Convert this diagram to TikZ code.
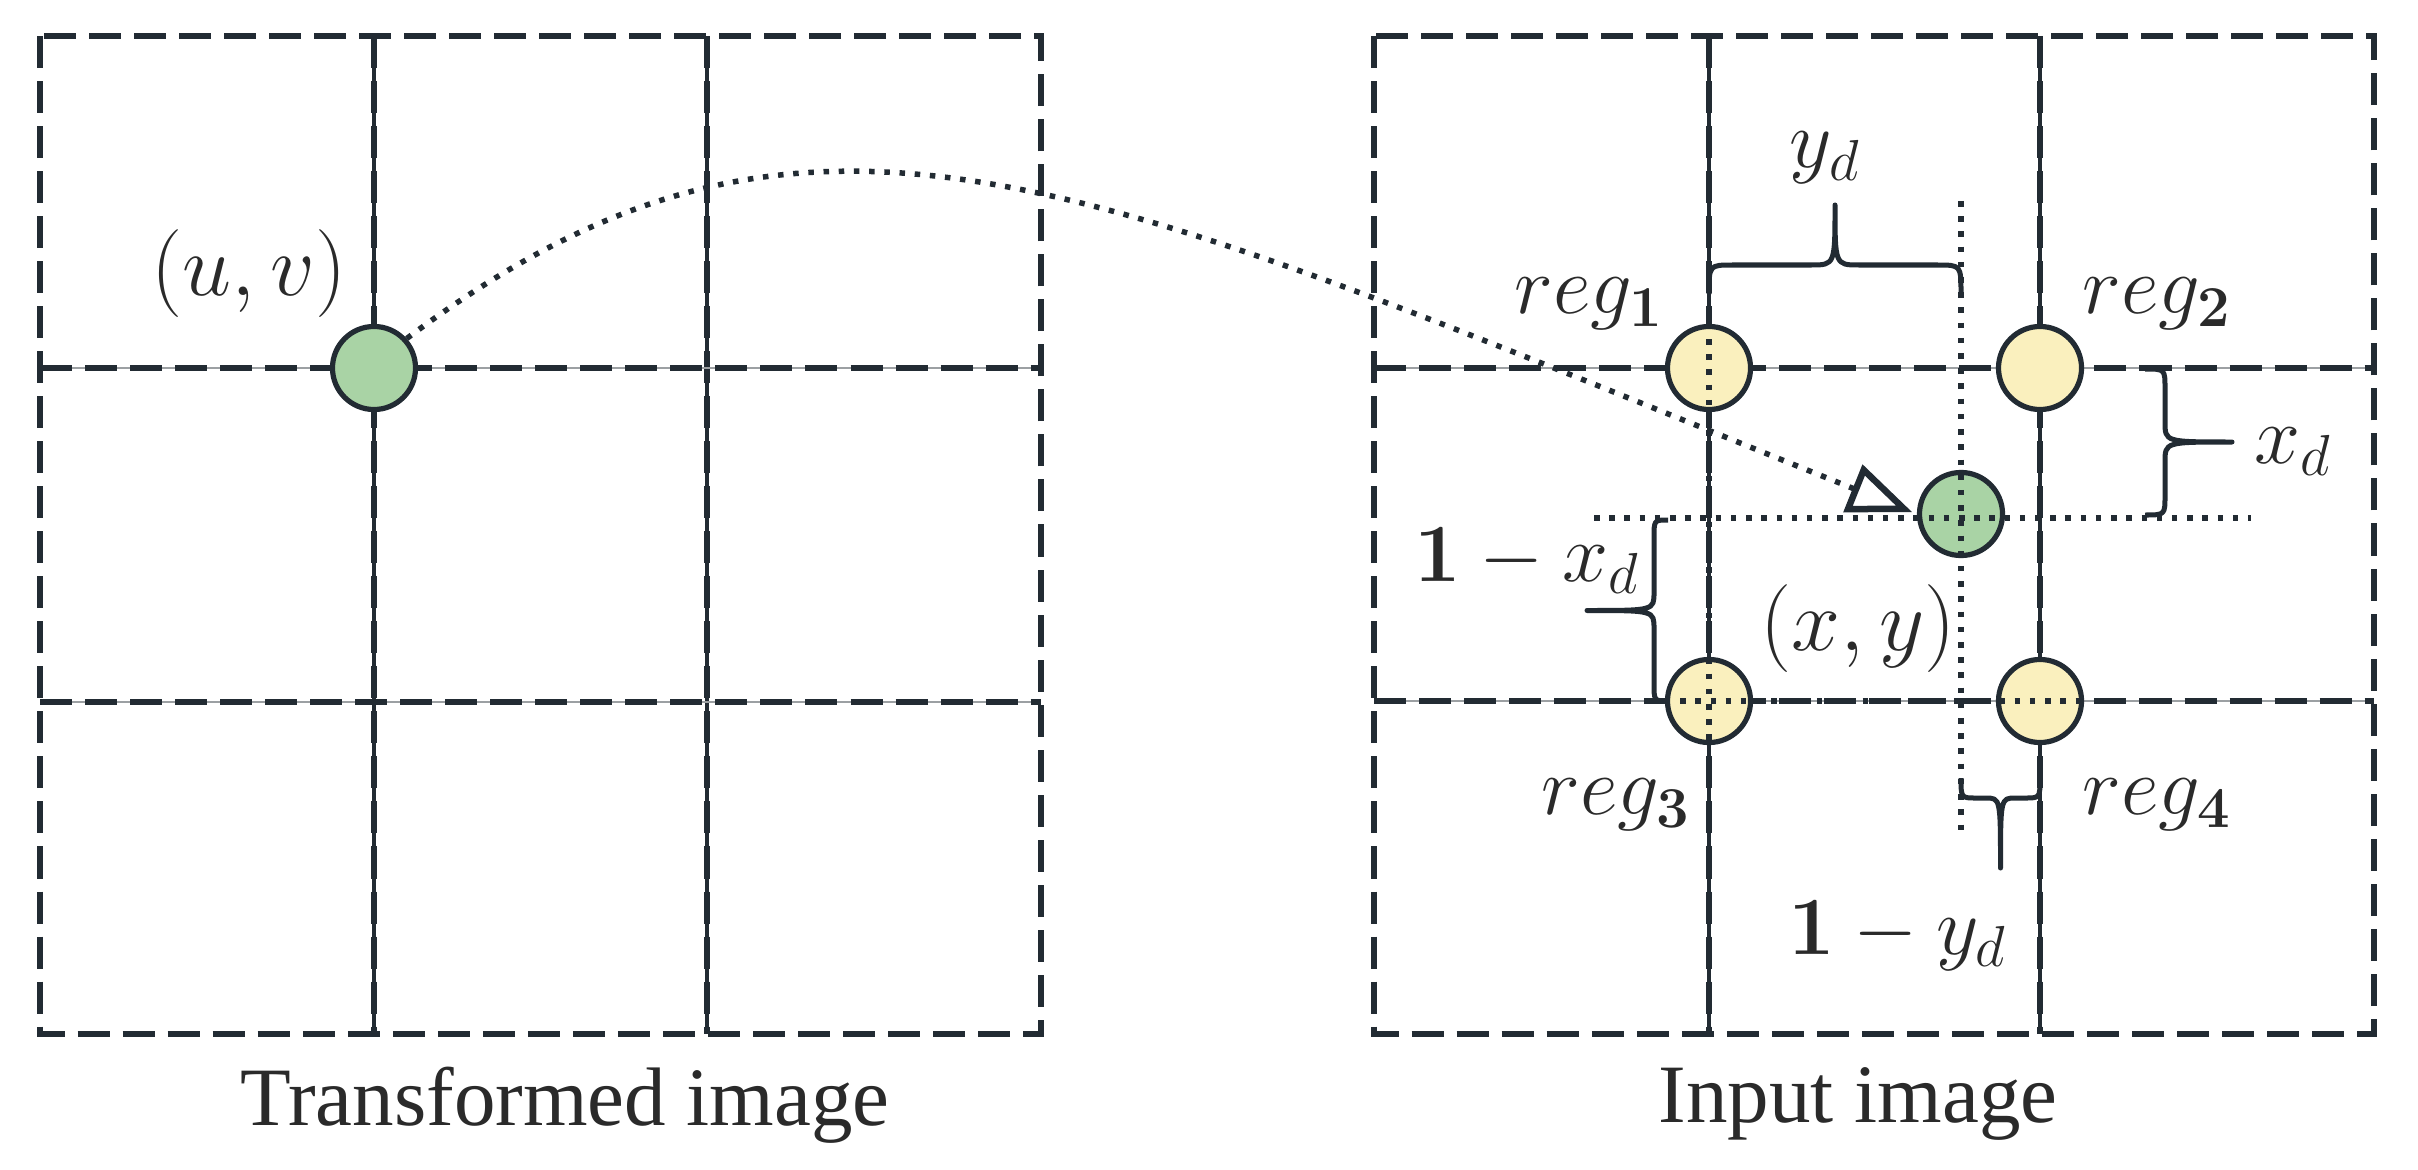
\RequirePackage{fix-cm}
\documentclass[tikz,border=0pt]{standalone}
\usepackage[no-math]{fontspec}
\newfontfamily\capfont{Liberation Serif}
\usetikzlibrary{arrows.meta}
\definecolor{ink}{RGB}{34,43,51}
\definecolor{txt}{RGB}{42,42,42}
\definecolor{gfill}{RGB}{169,211,165}
\definecolor{yfill}{RGB}{250,240,190}
% horizontal brace: x1 x2 yend ystraight ytip r
\newcommand\mybraceh[6]{%
  \draw[bracepath] (#1,#3) .. controls (#1,#4) .. ({#1+#6},#4) -- ({(#1+#2)/2-#6},#4)
    .. controls ({(#1+#2)/2},#4) .. ({(#1+#2)/2},#5)
    .. controls ({(#1+#2)/2},#4) .. ({(#1+#2)/2+#6},#4) -- ({#2-#6},#4)
    .. controls (#2,#4) .. (#2,#3);}
% vertical brace: y1 y2 xend xstraight xtip r
\newcommand\mybracev[6]{%
  \draw[bracepath] (#3,#1) .. controls (#4,#1) .. (#4,{#1+#6}) -- (#4,{(#1+#2)/2-#6})
    .. controls (#4,{(#1+#2)/2}) .. (#5,{(#1+#2)/2})
    .. controls (#4,{(#1+#2)/2}) .. (#4,{(#1+#2)/2+#6}) -- (#4,{#2-#6})
    .. controls (#4,#2) .. (#3,#2);}
\begin{document}
\begin{tikzpicture}[x=0.01cm,y=-0.01cm,
  border/.style={ink, line width=0.062cm, dash pattern=on 0.32cm off 0.13cm},
  vthin/.style={ink, line width=0.038cm},
  hthin/.style={ink!45, line width=0.014cm},
  dotline/.style={ink, line width=0.055cm, dash pattern=on 0.055cm off 0.097cm},
  pt/.style={circle, draw=ink, line width=0.052cm, minimum size=0.83cm, inner sep=0pt},
  bracepath/.style={ink, line width=0.05cm, line join=round},
  lab/.style={text=txt, font=\fontsize{23.5}{28}\selectfont, inner sep=0pt},
  biglab/.style={text=txt, font=\fontsize{25}{30}\selectfont, inner sep=0pt},
  captext/.style={text=txt, font=\capfont\fontsize{23.6}{28}\selectfont, inner sep=0pt}
]
\useasboundingbox (0,0) rectangle (2418,1170);

% left grid
\foreach \x in {374,707} {\draw[vthin] (\x,36) -- (\x,1034); \draw[border] (\x,36) -- (\x,1034);}
\foreach \y in {368,702} {\draw[hthin] (40,\y) -- (1041,\y); \draw[border] (40,\y) -- (1041,\y);}
\draw[border] (40,36) rectangle (1041,1034);

% right grid
\foreach \x in {1709,2040} {\draw[vthin] (\x,36) -- (\x,1034); \draw[border] (\x,36) -- (\x,1034);}
\foreach \y in {368,701} {\draw[hthin] (1374,\y) -- (2374,\y); \draw[border] (1374,\y) -- (2374,\y);}
\draw[border] (1374,36) rectangle (2374,1034);

% points
\node[pt, fill=gfill] (uv) at (374,368) {};
\node[pt, fill=yfill] (r1) at (1709,368) {};
\node[pt, fill=yfill] (r2) at (2040,368) {};
\node[pt, fill=yfill] (r3) at (1709,701) {};
\node[pt, fill=yfill] (r4) at (2040,701) {};
\node[pt, fill=gfill] (xy) at (1961,514) {};

% dotted guides
\draw[dotline] (r1.north) -- (r3.south);
\draw[dotline] (r3.west) -- (r4.east);
\coordinate (hl) at (1594,518);
\coordinate (hr) at (2251,518);
\coordinate (vt) at (1961,201);
\coordinate (vb) at (1961,834);
\draw[dotline] (hl) -- (hr);
\draw[dotline] (vt) -- (vb);

% mapping curve
\draw[dotline, shorten >=0.05cm, -{Triangle[open, length=0.64cm, width=0.5cm, line width=0.065cm]}]
  (uv.42) .. controls (809,37) and (1076,177) .. (xy.west);

% braces
\mybraceh{1709}{1961}{294}{265}{205}{24}
\mybraceh{1961}{2040}{778}{798}{868}{15}
\mybracev{369}{515}{2145}{2165}{2232}{20}
\mybracev{520}{701}{1668}{1654}{1587}{18}

% labels
\node[biglab] (luv) at (249,274) {$(u,v)$};
\node[lab] (lr1) at (1589,304) {$reg_{\mathbf{1}}$};
\node[lab] (lr2) at (2157,304) {$reg_{\mathbf{2}}$};
\node[lab] (lr3) at (1616,805) {$reg_{\mathbf{3}}$};
\node[lab] (lr4) at (2157,805) {$reg_{\mathbf{4}}$};
\node[biglab] (lxy) at (1858,629) {$(x,y)$};
\node[lab] (lyd) at (1825,158) {$y_d$};
\node[lab] (lxd) at (2293,452) {$x_d$};
\node[lab] (l1x) at (1527,561) {$\mathbf{1}-x_d$};
\node[lab] (l1y) at (1898,936) {$\mathbf{1}-y_d$};
\node[captext] (ct) at (565,1105) {Transformed image};
\node[captext] (ci) at (1858,1104) {Input image};
\end{tikzpicture}
\end{document}
